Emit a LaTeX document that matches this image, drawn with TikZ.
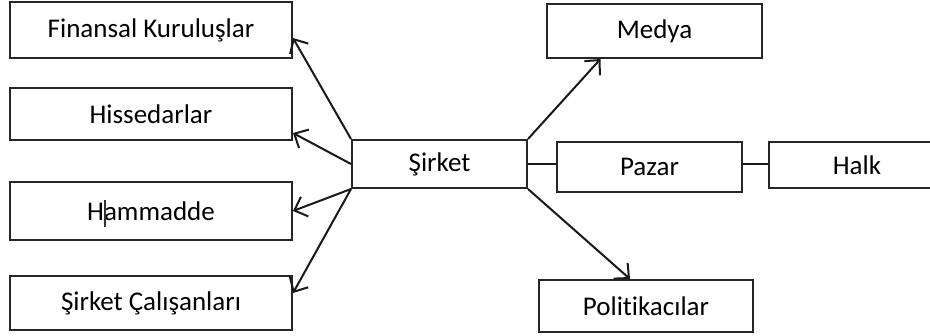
\documentclass[tikz,border=0pt]{standalone}
\usepackage{fontspec}
\setmainfont{Carlito}[Ligatures=NoCommon]
\usetikzlibrary{arrows.meta,calc}
\begin{document}
\begin{tikzpicture}[x=0.5pt,y=-0.5pt,
  box/.style={draw=black!85,line width=1pt,fill=white,inner sep=0pt,
    font=\fontsize{13.5}{16}\selectfont,text=black},
  link/.style={draw=black!90,line width=1pt},
  arr/.style={link,-{Straight Barb[length=5.5pt,width=10.5pt,line width=1pt]}}]
\clip (0,0) rectangle (930,336);
\fill[white] (0,0) rectangle (930,336);

% left column
\node[box,minimum width=141pt,minimum height=28pt] (fin) at (151,30) {Finansal Kuruluşlar};
\node[box,minimum width=141pt,minimum height=26pt] (his) at (151,114) {Hissedarlar};
\node[box,minimum width=141pt,minimum height=29pt] (ham) at (151,211) {Hammadde};
\node[box,minimum width=141pt,minimum height=27pt] (cal) at (151,303) {Şirket Çalışanları};

% centre
\node[box,minimum width=87.5pt,minimum height=24pt] (sirket) at (439.5,164) {Şirket};

% right side
\node[box,minimum width=107.5pt,minimum height=27pt] (medya) at (654.5,31) {Medya};
\node[box,minimum width=92.5pt,minimum height=25pt] (pazar) at (649.5,167) {Pazar};
\node[box,minimum width=88pt,minimum height=23pt] (halk) at (857,165) {Halk};
\node[box,minimum width=107pt,minimum height=26pt] (pol) at (646,306) {Politikacılar};

% text cursor left in the Hammadde label
\draw[black!80,line width=0.6pt] (105,200) -- (105,227);

% connectors
\draw[arr] (sirket.north west) -- ($(fin.east)+(0,8)$);
\draw[arr] (sirket.west) -- ($(his.east)+(0,19)$);
\draw[arr] (sirket.south west) -- (ham.east);
\draw[arr] (sirket.south west) -- ($(cal.east)+(0,-10)$);
\draw[arr] (sirket.north east) -- ($(medya.south)+(-54,0)$);
\draw[arr] (sirket.south east) -- ($(pol.north)+(-16,0)$);
\draw[link] (sirket.east) -- (sirket.east -| pazar.west);
\draw[link] ($(pazar.east)+(0,-3)$) -- ($(pazar.east -| halk.west)+(0,-3)$);
\end{tikzpicture}
\end{document}
